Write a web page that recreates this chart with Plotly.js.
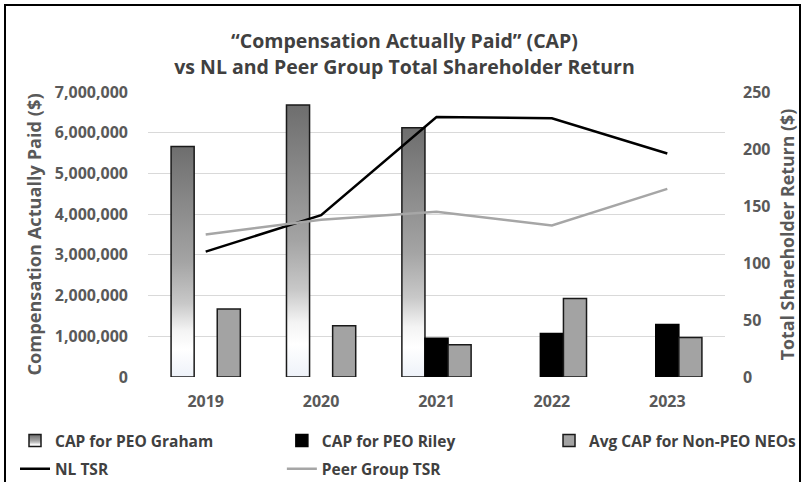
<!DOCTYPE html>
<html>
<head>
<meta charset="utf-8">
<script src="https://cdn.plot.ly/plotly-3.0.1.min.js"></script>
<style>
  html, body { margin: 0; padding: 0; background: #fff; overflow: hidden; }
  #wrap { position: relative; width: 809px; height: 482px; }
  #chart { position: absolute; left: 0; top: 0; width: 809px; height: 482px; }
  #frame { position: absolute; left: 4px; top: 4px; width: 797px; height: 500px;
           border: 2px solid #000; pointer-events: none; box-sizing: border-box; }
</style>
</head>
<body>
<div id="wrap">
  <div id="chart"></div>
  <div id="frame"></div>
</div>
<script>
const years = ['2019', '2020', '2021', '2022', '2023'];
const capGraham = [5660000, 6680000, 6120000, null, null];
const capRiley = [null, null, 950000, 1070000, 1290000];
const avgNonPeo = [1670000, 1260000, 790000, 1930000, 970000];
const nlTsr = [110, 142, 228, 227, 196];
const peerTsr = [125, 138, 145, 133, 165];
const leftTicks = [0, 1000000, 2000000, 3000000, 4000000, 5000000, 6000000, 7000000];
const rightTicks = [0, 50, 100, 150, 200, 250];

const FONT = '"Open Sans", Lato, sans-serif';
const GREY = '#595959';

const traces = [
  { type: 'bar', name: 'CAP for PEO Graham', x: years, y: capGraham, legend: 'legend', legendgroup: 'a',
    marker: { color: '#a6a6a6', line: { color: '#1a1a1a', width: 1.5 } } },
  { type: 'bar', name: 'CAP for PEO Riley', x: years, y: capRiley, legend: 'legend2', legendgroup: 'c',
    marker: { color: '#000000', line: { color: '#000000', width: 1.5 } } },
  { type: 'bar', name: 'Avg CAP for Non-PEO NEOs', x: years, y: avgNonPeo, legend: 'legend3', legendgroup: 'e',
    marker: { color: '#a3a3a3', line: { color: '#1a1a1a', width: 1.5 } } },
  { type: 'scatter', mode: 'lines', name: 'NL TSR', x: years, y: nlTsr, yaxis: 'y2', legend: 'legend', legendgroup: 'b',
    line: { color: '#000000', width: 2.5 } },
  { type: 'scatter', mode: 'lines', name: 'Peer Group TSR', x: years, y: peerTsr, yaxis: 'y2', legend: 'legend2', legendgroup: 'd',
    line: { color: '#a6a6a6', width: 2.5 } }
];

function legendAt(xp) {
  return {
    orientation: 'v', x: xp, xanchor: 'left', y: -0.165, yanchor: 'top',
    traceorder: 'grouped', tracegroupgap: 5, itemwidth: 30,
    bgcolor: 'rgba(0,0,0,0)',
    font: { family: FONT, size: 15.5, color: '#404040', weight: 'bold' }
  };
}

const layout = {
  width: 809, height: 482,
  margin: { l: 148, r: 84, t: 92, b: 105, autoexpand: false },
  paper_bgcolor: 'rgba(0,0,0,0)', plot_bgcolor: 'rgba(0,0,0,0)',
  font: { family: FONT, color: GREY, size: 15 },
  title: {
    text: '“Compensation Actually Paid” (CAP)<br>vs NL and Peer Group Total Shareholder Return',
    font: { family: FONT, size: 19.5, color: '#404040', weight: 'bold' },
    x: 0.5, xanchor: 'center', y: 0.9, yanchor: 'middle'
  },
  barmode: 'group', bargap: 0.4, bargroupgap: 0,
  showlegend: true,
  legend: legendAt(-0.2305),
  legend2: legendAt(0.232),
  legend3: legendAt(0.695),
  xaxis: {
    type: 'category', showgrid: false, zeroline: false, showline: false,
    ticks: '', tickfont: { family: FONT, size: 16, color: GREY, weight: 'bold' },
    ticklabelstandoff: 13
  },
  yaxis: {
    range: [0, 7000000], tickvals: leftTicks, tickformat: ',d',
    showgrid: true, gridcolor: '#d9d9d9', gridwidth: 1, zeroline: false, showline: false,
    ticks: '', tickfont: { family: FONT, size: 16, color: GREY, weight: 'bold' },
    ticklabelstandoff: 19,
    title: { text: 'Compensation Actually Paid ($)', standoff: 8,
             font: { family: FONT, size: 18.2, color: GREY, weight: 'bold' } }
  },
  yaxis2: {
    overlaying: 'y', side: 'right', range: [0, 250], tickvals: rightTicks,
    showgrid: false, zeroline: false, showline: false, ticks: '',
    tickfont: { family: FONT, size: 16, color: GREY, weight: 'bold' },
    ticklabelstandoff: 17,
    title: { text: 'Total Shareholder Return ($)', standoff: 12,
             font: { family: FONT, size: 17.8, color: GREY, weight: 'bold' } }
  }
};

Plotly.newPlot('chart', traces, layout, { staticPlot: true, displayModeBar: false }).then(function (gd) {
  const svg = gd.querySelector('svg.main-svg');
  const NS = 'http://www.w3.org/2000/svg';
  let defs = svg.querySelector('defs');
  if (!defs) { defs = document.createElementNS(NS, 'defs'); svg.insertBefore(defs, svg.firstChild); }
  function makeGrad(id, horiz) {
    const grad = document.createElementNS(NS, 'linearGradient');
    grad.setAttribute('id', id);
    grad.setAttribute('x1', '0'); grad.setAttribute('y1', '0');
    grad.setAttribute('x2', horiz ? '1' : '0'); grad.setAttribute('y2', horiz ? '0' : '1');
    [['0', '#6e6e6e'], ['0.5', '#a4a4a4'], ['0.68', '#c8c8c8'], ['0.8', '#f4f4f4'],
     ['0.88', '#ffffff'], ['1', '#eef2f9']].forEach(function (s) {
      const st = document.createElementNS(NS, 'stop');
      st.setAttribute('offset', s[0]); st.setAttribute('stop-color', s[1]);
      grad.appendChild(st);
    });
    defs.appendChild(grad);
  }
  makeGrad('capGrad', false);
  const barTraces = gd.querySelectorAll('.barlayer .trace.bars');
  if (barTraces.length) {
    barTraces[0].querySelectorAll('path').forEach(function (p) { p.style.fill = 'url(#capGrad)'; });
  }
  gd.querySelectorAll('.legend .traces').forEach(function (t) {
    const txt = t.querySelector('text.legendtext');
    if (txt && txt.textContent === 'CAP for PEO Graham') {
      t.querySelectorAll('.legendpoints path').forEach(function (p) { p.style.fill = 'url(#capGrad)'; });
    }
  });
});
</script>
</body>
</html>
